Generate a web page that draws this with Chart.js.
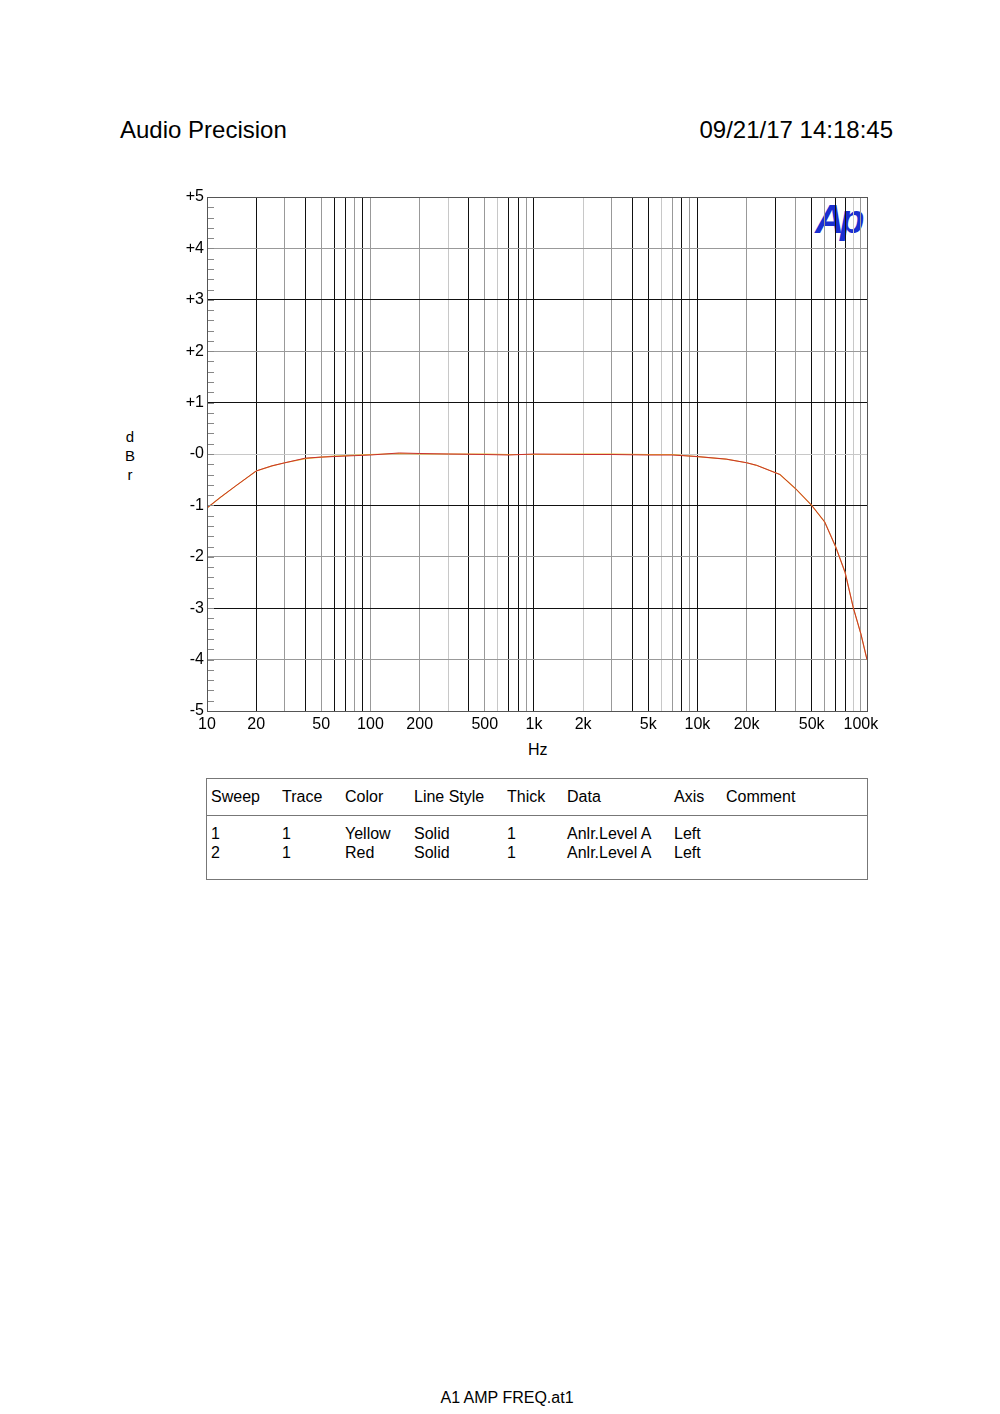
<!DOCTYPE html>
<html><head><meta charset="utf-8">
<script src="https://cdn.jsdelivr.net/npm/chart.js@4"></script>
<style>
body{margin:0;background:#fff;font-family:"Liberation Sans",Arial,sans-serif;color:#000}
#wrap{position:relative;width:1000px;height:1414px}
.t{position:absolute;white-space:nowrap}
canvas{position:absolute;left:0;top:0}
</style></head><body>
<div id="wrap">
<div class="t" style="left:120px;top:116px;font-size:24px">Audio Precision</div>
<div class="t" style="right:107px;top:116px;font-size:24px">09/21/17 14:18:45</div>
<div class="t" style="left:125px;top:427px;font-size:15px;line-height:19px;text-align:center;width:10px">d<br>B<br>r</div>
<div class="t" style="left:528px;top:741px;font-size:16px">Hz</div>
<div class="t" style="left:815px;top:197px;font-size:40px;font-weight:bold;font-style:italic;color:#1a2fd0;letter-spacing:-4px">Ap</div>
<canvas id="c" width="1000" height="771"></canvas>
<div id="tbl"></div>
<div class="t" style="left:0;width:1014px;text-align:center;top:1389px;font-size:16px">A1 AMP FREQ.at1</div>
</div>
<script>
const freqs=[10,12,15,20,25,30,40,50,60,70,100,150,200,300,500,700,1000,2000,3000,5000,7000,10000,15000,20000,23000,32000,40000,50000,60000,70000,80000,90000,100000,109000];
const redDb=[-1.05,-0.85,-0.62,-0.33,-0.23,-0.17,-0.08,-0.06,-0.05,-0.04,-0.02,0.02,0.01,0,-0.01,-0.02,0,-0.01,-0.01,-0.02,-0.02,-0.05,-0.1,-0.17,-0.22,-0.4,-0.68,-1.0,-1.32,-1.8,-2.3,-3.0,-3.5,-4.0];
const yellowDb=[-1.05,-0.85,-0.62,-0.33,-0.23,-0.17,-0.09,-0.06,-0.04,-0.03,-0.01,0.01,0.0,0.0,0.0,-0.01,-0.01,0.0,0.0,-0.01,-0.01,-0.05,-0.1,-0.17,-0.22,-0.4,-0.68,-1.0,-1.32,-1.8,-2.3,-3.0,-3.5,-4.0];
const gridFreqs=[20,30,40,50,60,70,80,90,100,200,300,400,500,600,700,800,900,1000,2000,3000,4000,5000,6000,7000,8000,9000,10000,20000,30000,40000,50000,60000,70000,80000,90000,100000];
const gridShade=["d","g","d","g","d","d","g","d","g","g","l","d","g","l","d","d","g","d","l","g","d","d","l","g","d","g","d","g","d","g","d","g","d","d","l","g"];
const xLabels={10:"10",20:"20",50:"50",100:"100",200:"200",500:"500",1000:"1k",2000:"2k",5000:"5k",10000:"10k",20000:"20k",50000:"50k",100000:"100k"};
const yTicks=[5,4,3,2,1,0,-1,-2,-3,-4,-5];
const yShade={4:"g",3:"d",2:"g",1:"d",0:"l",'-1':"d",'-2':"g",'-3':"d",'-4':"g"};
const tableHeader=["Sweep","Trace","Color","Line Style","Thick","Data","Axis","Comment"];
const tableRows=[["1","1","Yellow","Solid","1","Anlr.Level A","Left",""],["2","1","Red","Solid","1","Anlr.Level A","Left",""]];

const shadeCol={d:"#111",g:"#999",l:"#c8c8c8"};
const colX=[4,75,138,207,300,360,467,519];
let h='<div style="position:absolute;left:206px;top:778px;width:660px;height:100px;border:1px solid #777;font-size:16px">';
h+='<div style="position:absolute;left:0;right:0;top:36px;border-top:1px solid #777"></div>';
tableHeader.forEach((t,i)=>h+=`<div class="t" style="left:${colX[i]}px;top:9px">${t}</div>`);
tableRows.forEach((r,j)=>r.forEach((t,i)=>h+=`<div class="t" style="left:${colX[i]}px;top:${46+j*19}px">${t}</div>`));
h+='</div>';
document.getElementById('tbl').innerHTML=h;

const minorTicks={id:'minor',afterDraw(c){const y=c.scales.y,ctx=c.ctx;ctx.save();ctx.strokeStyle='#888';ctx.lineWidth=1;
for(let v=-5;v<=5.001;v+=0.2){const p=Math.round(y.getPixelForValue(v))+0.5;ctx.beginPath();ctx.moveTo(c.chartArea.left,p);ctx.lineTo(c.chartArea.left+7,p);ctx.stroke();}
ctx.strokeStyle='#555';ctx.strokeRect(c.chartArea.left+0.5,c.chartArea.top+0.5,c.chartArea.right-c.chartArea.left,c.chartArea.bottom-c.chartArea.top);ctx.restore();}};

new Chart(document.getElementById('c'),{type:'line',
data:{datasets:[
{data:freqs.map((f,i)=>({x:f,y:yellowDb[i]})),borderColor:'#e8b830',borderWidth:1.2,pointRadius:0,tension:0,order:2},
{data:freqs.map((f,i)=>({x:f,y:redDb[i]})),borderColor:'#c83030',borderWidth:1,pointRadius:0,tension:0,order:1}]},
options:{responsive:false,animation:false,events:[],
layout:{padding:{left:0,top:197,right:133,bottom:0}},
plugins:{legend:{display:false},tooltip:{enabled:false}},
scales:{
x:{type:'logarithmic',min:10,max:109000,
afterBuildTicks(s){s.ticks=[10,...gridFreqs].map(v=>({value:v}));},
afterFit(s){s.height=60;},
ticks:{autoSkip:false,maxRotation:0,color:'#000',font:{family:'Liberation Sans',size:16},padding:4,callback:v=>xLabels[v]||''},
grid:{tickLength:0,color:ctx=>{const i=gridFreqs.indexOf(ctx.tick&&ctx.tick.value);return i<0?'rgba(0,0,0,0)':shadeCol[gridShade[i]];}},border:{display:false}},
y:{min:-5,max:5,
afterBuildTicks(s){s.ticks=yTicks.map(v=>({value:v}));},
afterFit(s){s.width=207;},
ticks:{color:'#000',font:{family:'Liberation Sans',size:16},padding:3,callback:v=>v>0?'+'+v:(v===0?'-0':String(v))},
grid:{tickLength:0,color:ctx=>{const k=ctx.tick&&yShade[ctx.tick.value];return k?shadeCol[k]:'rgba(0,0,0,0)';}},border:{display:false}}}},
plugins:[minorTicks]});
</script></body></html>
